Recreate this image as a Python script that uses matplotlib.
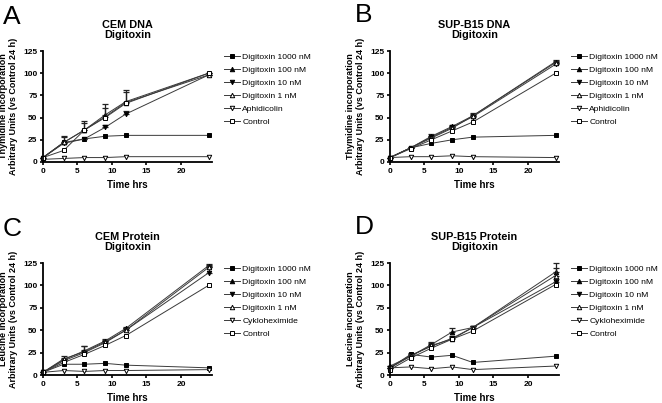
import numpy as np
import matplotlib
matplotlib.use("Agg")
import matplotlib.pyplot as plt

plt.rcParams['font.family'] = ['Liberation Sans', 'DejaVu Sans']

TIME = [0, 3, 6, 9, 12, 24]

# Panel A - CEM DNA
A_1000 = [5, 22, 26, 29, 30, 30]
A_100 = [5, 22, 36, 53, 68, 100]
A_10 = [5, 21, 26, 39, 54, 98]
A_1 = [5, 22, 36, 51, 67, 98]
A_ctrl_drug = [3, 4, 5, 5, 6, 6]
A_ctrl = [5, 13, 36, 50, 66, 100]
A_err_100 = [0, 7, 10, 12, 13, 0]
A_err_10 = [0, 0, 0, 3, 3, 0]
A_err_1 = [0, 6, 8, 10, 12, 2]

# Panel B - SUP-B15 DNA
B_1000 = [5, 16, 21, 25, 28, 30]
B_100 = [5, 16, 29, 40, 52, 113]
B_10 = [5, 16, 28, 39, 51, 110]
B_1 = [5, 16, 27, 38, 52, 112]
B_ctrl_drug = [5, 6, 6, 7, 6, 5]
B_ctrl = [5, 15, 25, 35, 45, 100]
B_err_100 = [0, 1, 2, 2, 2, 2]
B_err_10 = [0, 1, 1, 1, 2, 2]
B_err_1 = [0, 1, 1, 1, 3, 2]

# Panel C - CEM Protein
C_1000 = [3, 12, 12, 13, 11, 8]
C_100 = [3, 17, 27, 38, 52, 122]
C_10 = [3, 16, 25, 36, 50, 114]
C_1 = [3, 18, 26, 37, 50, 120]
C_ctrl_drug = [3, 5, 4, 5, 5, 6]
C_ctrl = [3, 14, 23, 33, 44, 100]
C_err_100 = [0, 2, 5, 2, 2, 2]
C_err_10 = [0, 2, 3, 2, 2, 7]
C_err_1 = [0, 3, 6, 2, 2, 3]

# Panel D - SUP-B15 Protein
D_1000 = [8, 23, 20, 22, 14, 21]
D_100 = [8, 21, 34, 48, 53, 115]
D_10 = [8, 22, 32, 41, 53, 104]
D_1 = [10, 21, 33, 40, 53, 111]
D_ctrl_drug = [8, 9, 7, 9, 6, 10]
D_ctrl = [6, 19, 30, 40, 49, 101]
D_err_100 = [0, 2, 3, 4, 2, 4]
D_err_10 = [0, 2, 3, 2, 2, 3]
D_err_1 = [0, 2, 3, 2, 2, 14]

SERIES_LABELS = ['Digitoxin 1000 nM', 'Digitoxin 100 nM', 'Digitoxin 10 nM', 'Digitoxin 1 nM']
MARKERS = [('s', 'k'), ('^', 'k'), ('v', 'k'), ('^', 'white'), ('v', 'white'), ('s', 'white')]

PANELS = [
    ('A', 'CEM DNA\nDigitoxin', 'Thymidine incorporation\nArbitrary Units (vs Control 24 h)', 'Aphidicolin',
     [A_1000, A_100, A_10, A_1, A_ctrl_drug, A_ctrl], [None, A_err_100, A_err_10, A_err_1, None, None]),
    ('B', 'SUP-B15 DNA\nDigitoxin', 'Thymidine incorporation\nArbitrary Units (vs Control 24 h)', 'Aphidicolin',
     [B_1000, B_100, B_10, B_1, B_ctrl_drug, B_ctrl], [None, B_err_100, B_err_10, B_err_1, None, None]),
    ('C', 'CEM Protein\nDigitoxin', 'Leucine incorporation\nArbitrary Units (vs Control 24 h)', 'Cykloheximide',
     [C_1000, C_100, C_10, C_1, C_ctrl_drug, C_ctrl], [None, C_err_100, C_err_10, C_err_1, None, None]),
    ('D', 'SUP-B15 Protein\nDigitoxin', 'Leucine incorporation\nArbitrary Units (vs Control 24 h)', 'Cykloheximide',
     [D_1000, D_100, D_10, D_1, D_ctrl_drug, D_ctrl], [None, D_err_100, D_err_10, D_err_1, None, None]),
]

W, H = 662, 403
fig = plt.figure(figsize=(W / 100, H / 100), dpi=100)

# axes boxes in pixels: left, top, bottom
boxes = [(43, 51, 162), (390, 51, 162), (43, 263, 375), (390, 263, 375)]
letter_pos = [(3, 5), (355, 3), (3, 217), (355, 215)]
ax_w = 169

for (letter, title, ylabel, ctrl_name, data, errs), (l, t, b), (lx, ly) in zip(PANELS, boxes, letter_pos):
    ax = fig.add_axes([l / W, 1 - b / H, ax_w / W, (b - t) / H])
    labels = SERIES_LABELS + [ctrl_name, 'Control']
    handles = []
    for y, e, (m, fc), lab in zip(data, errs, MARKERS, labels):
        if e is not None:
            ax.errorbar(TIME, y, yerr=[np.zeros(len(e)), e], fmt='none', ecolor='#222222',
                        elinewidth=0.9, capsize=2.5, capthick=0.9, clip_on=False)
        h, = ax.plot(TIME, y, color='#3a3a3a', lw=0.7, marker=m, markersize=3.2,
                     markerfacecolor=fc, markeredgecolor='black', markeredgewidth=0.7,
                     clip_on=False, label=lab)
        handles.append(h)
    ax.set_xlim(0, 24.5)
    ax.set_ylim(0, 125)
    ax.set_xticks([0, 5, 10, 15, 20])
    ax.set_yticks([0, 25, 50, 75, 100, 125])
    for s in ['top', 'right']:
        ax.spines[s].set_visible(False)
    for s in ['left', 'bottom']:
        ax.spines[s].set_linewidth(1.3)
    ax.tick_params(width=1.2, length=2.5, labelsize=6, pad=1.5)
    for tl in ax.get_xticklabels() + ax.get_yticklabels():
        tl.set_fontweight('bold')
    ax.set_xlabel('Time hrs', fontsize=7, fontweight='bold', labelpad=4)
    ax.set_ylabel(ylabel, fontsize=6.5, fontweight='bold', labelpad=4, linespacing=1.1)
    ax.set_title(title, fontsize=7.8, fontweight='bold', pad=9, linespacing=1.05)
    ax.legend(handles=handles, loc='upper left', bbox_to_anchor=((l + ax_w + 12) / W, 1 - (t + 2) / H),
              bbox_transform=fig.transFigure, frameon=False, fontsize=6.1,
              handlelength=1.9, handletextpad=0.25, labelspacing=0.6, borderaxespad=0, borderpad=0)
    fig.text(lx / W, 1 - ly / H, letter, fontsize=19, va='top', ha='left')

fig.savefig('out.png', dpi=100)
